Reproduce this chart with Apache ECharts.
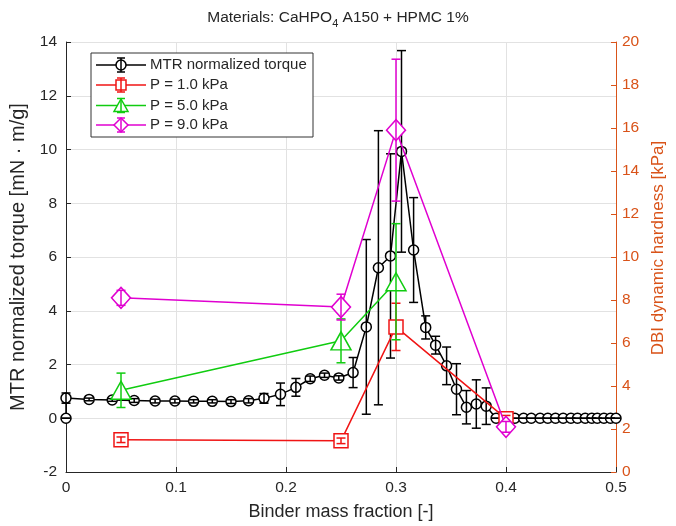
<!DOCTYPE html>
<html>
<head>
<meta charset="utf-8">
<script src="https://cdn.jsdelivr.net/npm/echarts@6/dist/echarts.min.js"></script>
<style>html,body{margin:0;padding:0;background:#fff}#c{width:676px;height:526px}</style>
</head>
<body>
<div id="c"></div>
<script>
// ---- data ----
const mtrX   = [0, 0, 0.021, 0.042, 0.062, 0.081, 0.099, 0.116, 0.133, 0.150, 0.166, 0.180, 0.195, 0.209, 0.222, 0.235, 0.248, 0.261, 0.273, 0.284, 0.295, 0.305, 0.316, 0.327, 0.336, 0.346, 0.355, 0.364, 0.373, 0.382, 0.391, 0.400, 0.408, 0.416, 0.423, 0.431, 0.438, 0.445, 0.452, 0.459, 0.465, 0.472, 0.478, 0.483, 0.489, 0.495, 0.500];
const mtrY   = [0, 0.75, 0.70, 0.68, 0.66, 0.64, 0.64, 0.63, 0.63, 0.62, 0.65, 0.74, 0.89, 1.15, 1.47, 1.60, 1.50, 1.70, 3.40, 5.60, 6.04, 9.93, 6.26, 3.38, 2.72, 1.95, 1.08, 0.41, 0.53, 0.45, 0.0, 0, 0, 0, 0, 0, 0, 0, 0, 0, 0, 0, 0, 0, 0, 0, 0];
const mtrErr = [0, 0.19, 0.05, 0.05, 0.07, 0.07, 0.07, 0.06, 0.06, 0.07, 0.08, 0.18, 0.42, 0.33, 0.10, 0.08, 0.08, 0.56, 3.25, 5.10, 3.80, 3.75, 1.95, 0.43, 0.33, 0.70, 0.95, 0.62, 0.90, 0.68, 0, 0, 0, 0, 0, 0, 0, 0, 0, 0, 0, 0, 0, 0, 0, 0, 0];

const p1X = [0.05, 0.25, 0.30, 0.40];
const p1Y = [1.50, 1.45, 6.75, 2.48];
const p1Err = [0.13, 0.13, 1.10, 0.15];

const p5X = [0.05, 0.25, 0.30];
const p5Y = [3.80, 6.10, 8.85];
const p5Err = [0.80, 1.02, 2.70];

const p9X = [0.05, 0.25, 0.30, 0.40];
const p9Y = [8.10, 7.67, 15.90, 2.10];
const p9Err = [0.35, 0.60, 3.30, 0.25];

const legendNames = ['MTR normalized torque', 'P = 1.0 kPa', 'P = 5.0 kPa', 'P = 9.0 kPa'];

// ---- styles ----
const C_BLACK = '#000000', C_RED = '#F01414', C_GREEN = '#10CC10', C_MAG = '#E000D0';
const C_AXIS = '#262626', C_ORANGE = '#D95319', C_GRID = '#e2e2e2';
const FONT = '"Liberation Sans", Arial, Helvetica, sans-serif';

function pairs(xs, ys) { return xs.map((x, i) => [x, ys[i]]); }
function errData(xs, ys, es) { return xs.map((x, i) => [x, ys[i] - es[i], ys[i] + es[i]]); }
function errRender(color, capHalf, lw) {
  return function (params, api) {
    const x = api.value(0), lo = api.value(1), hi = api.value(2);
    const t = api.coord([x, hi]), b = api.coord([x, lo]);
    const st = { stroke: color, lineWidth: lw, fill: null };
    return { type: 'group', children: [
      { type: 'line', shape: { x1: t[0], y1: t[1], x2: b[0], y2: b[1] }, style: st },
      { type: 'line', shape: { x1: t[0] - capHalf, y1: t[1], x2: t[0] + capHalf, y2: t[1] }, style: st },
      { type: 'line', shape: { x1: b[0] - capHalf, y1: b[1], x2: b[0] + capHalf, y2: b[1] }, style: st }
    ]};
  };
}
function lineSeries(name, xs, ys, yIdx, color, symbol, size, z) {
  return { type: 'line', name: name, yAxisIndex: yIdx, data: pairs(xs, ys), z: z,
    symbol: symbol, symbolSize: size, showAllSymbol: true,
    lineStyle: { color: color, width: 1.5 },
    itemStyle: { color: '#fff', borderColor: color, borderWidth: 1.5 },
    emphasis: { disabled: true } };
}
function errSeries(xs, ys, es, yIdx, color, z) {
  return { type: 'custom', yAxisIndex: yIdx, data: errData(xs, ys, es), z: z,
    encode: { x: 0, y: [1, 2] }, renderItem: errRender(color, 4.5, 1.5), silent: true };
}

// ---- legend (graphic) ----
const legColors = [C_BLACK, C_RED, C_GREEN, C_MAG];
const legRowsY = [65, 85, 105.5, 125];
const legGraphic = [{ type: 'rect', shape: { x: 91, y: 53, width: 222, height: 84 },
  style: { fill: '#fff', stroke: '#333', lineWidth: 1 }, z: 100 }];
legRowsY.forEach((y, i) => {
  const c = legColors[i], cx = 121;
  const st = { stroke: c, lineWidth: 1.5, fill: null };
  legGraphic.push({ type: 'line', shape: { x1: 96, y1: y, x2: 146, y2: y }, style: st, z: 101 });
  let mk;
  if (i === 0) mk = { type: 'circle', shape: { cx: cx, cy: y, r: 5 } };
  else if (i === 1) mk = { type: 'rect', shape: { x: cx - 5, y: y - 5, width: 10, height: 10 } };
  else if (i === 2) mk = { type: 'polygon', shape: { points: [[cx, y - 6.5], [cx + 7, y + 6], [cx - 7, y + 6]] } };
  else mk = { type: 'polygon', shape: { points: [[cx, y - 7], [cx + 7, y], [cx, y + 7], [cx - 7, y]] } };
  mk.style = { fill: '#fff', stroke: c, lineWidth: 1.5 }; mk.z = 102;
  legGraphic.push(mk);
  [[cx, y - 7, cx, y + 7], [cx - 4, y - 7, cx + 4, y - 7], [cx - 4, y + 7, cx + 4, y + 7]].forEach(s => {
    legGraphic.push({ type: 'line', shape: { x1: s[0], y1: s[1], x2: s[2], y2: s[3] }, style: st, z: 103 });
  });
  legGraphic.push({ type: 'text', x: 150, y: y, z: 103,
    style: { text: legendNames[i], fill: C_AXIS, font: '15px ' + FONT, textVerticalAlign: 'middle', verticalAlign: 'middle' } });
});

const chart = echarts.init(document.getElementById('c'), null, { renderer: 'canvas' });
chart.setOption({
  animation: false,
  backgroundColor: '#ffffff',
  textStyle: { fontFamily: FONT },
  title: {
    text: '{a|Materials: CaHPO}{s|4}{a| A150 + HPMC 1%}',
    left: 'center', top: 7, padding: 0,
    textStyle: { fontWeight: 'normal', rich: {
      a: { fontSize: 15.5, fontWeight: 'normal', color: C_AXIS, fontFamily: FONT, lineHeight: 22, verticalAlign: 'middle' },
      s: { fontSize: 11, fontWeight: 'normal', color: C_AXIS, fontFamily: FONT, lineHeight: 22, verticalAlign: 'bottom' }
    } }
  },
  grid: { left: 66, right: 60, top: 42, bottom: 54 },
  xAxis: {
    type: 'value', min: 0, max: 0.5, interval: 0.1,
    name: 'Binder mass fraction [-]', nameLocation: 'middle', nameGap: 31,
    nameTextStyle: { fontSize: 18, color: C_AXIS },
    axisLine: { show: true, onZero: false, lineStyle: { color: C_AXIS, width: 1 } },
    axisTick: { show: true, inside: true, length: 5, lineStyle: { color: C_AXIS } },
    axisLabel: { fontSize: 15.5, color: C_AXIS, margin: 8 },
    splitLine: { show: true, lineStyle: { color: C_GRID, width: 1 } }
  },
  yAxis: [{
    type: 'value', min: -2, max: 14, interval: 2, position: 'left',
    name: 'MTR normalized torque [mN · m/g]', nameLocation: 'middle', nameGap: 32, nameRotate: 90,
    nameTextStyle: { fontSize: 20, color: C_AXIS },
    axisLine: { show: true, onZero: false, lineStyle: { color: C_AXIS, width: 1 } },
    axisTick: { show: true, inside: true, length: 5, lineStyle: { color: C_AXIS } },
    axisLabel: { fontSize: 15.5, color: C_AXIS, margin: 9 },
    splitLine: { show: true, lineStyle: { color: C_GRID, width: 1 } }
  }, {
    type: 'value', min: 0, max: 20, interval: 2, position: 'right',
    name: 'DBI dynamic hardness [kPa]', nameLocation: 'middle', nameGap: 30, nameRotate: 90,
    nameTextStyle: { fontSize: 17, color: C_ORANGE, padding: [0, 0, 0, 18] },
    axisLine: { show: true, onZero: false, lineStyle: { color: C_ORANGE, width: 1 } },
    axisTick: { show: true, inside: true, length: 5, lineStyle: { color: C_ORANGE } },
    axisLabel: { fontSize: 15.5, color: C_ORANGE, margin: 6 },
    splitLine: { show: false }
  }],
  series: [
    lineSeries(legendNames[0], mtrX, mtrY, 0, C_BLACK, 'circle', 10, 2),
    errSeries(mtrX, mtrY, mtrErr, 0, C_BLACK, 3),
    lineSeries(legendNames[1], p1X, p1Y, 1, C_RED, 'rect', 14, 4),
    errSeries(p1X, p1Y, p1Err, 1, C_RED, 5),
    lineSeries(legendNames[2], p5X, p5Y, 1, C_GREEN, 'triangle', [20, 18], 6),
    errSeries(p5X, p5Y, p5Err, 1, C_GREEN, 7),
    lineSeries(legendNames[3], p9X, p9Y, 1, C_MAG, 'diamond', [19, 21], 8),
    errSeries(p9X, p9Y, p9Err, 1, C_MAG, 9)
  ],
  graphic: legGraphic
});
</script>
</body>
</html>
